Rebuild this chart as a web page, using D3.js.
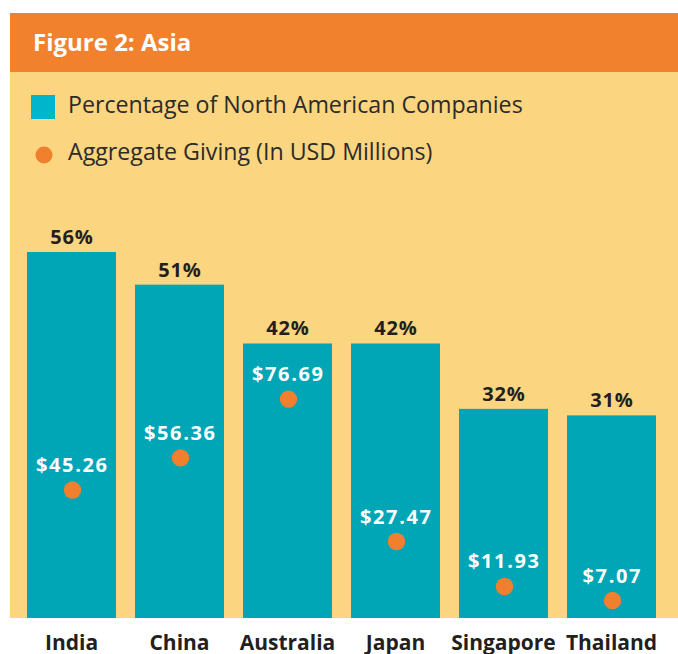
<!DOCTYPE html>
<html>
<head>
<meta charset="utf-8">
<script src="https://cdn.jsdelivr.net/npm/d3@7"></script>
<style>
  html, body { margin: 0; padding: 0; background: #ffffff; }
  svg { display: block; }
  text { font-family: "Open Sans", "Noto Sans", sans-serif; }
</style>
</head>
<body>
<svg id="chart" width="678" height="654"></svg>
<script>
// ---- data ----
const categories = ["India", "China", "Australia", "Japan", "Singapore", "Thailand"];
const percentCompanies = [56, 51, 42, 42, 32, 31];
const aggregateGiving = [45.26, 56.36, 76.69, 27.47, 11.93, 7.07];
const title = "Figure 2: Asia";
const legendLabels = ["Percentage of North American Companies", "Aggregate Giving (In USD Millions)"];

// ---- styles ----
const C = {
  header: "#F2812E",
  panel: "#FBD57F",
  bar: "#00A6B5",
  legendSquare: "#00B5CC",
  dot: "#F0802E",
  dark: "#231F20",
  legendText: "#2B2B2B"
};

const svg = d3.select("#chart");

// panel + header
svg.append("rect").attr("x", 10).attr("y", 72).attr("width", 668).attr("height", 546).attr("fill", C.panel);
svg.append("rect").attr("x", 10).attr("y", 13).attr("width", 668).attr("height", 59).attr("fill", C.header);
svg.append("text").attr("x", 33).attr("y", 51)
  .attr("fill", "#ffffff").attr("font-weight", 700).attr("font-size", 24)
  .text(title);

// legend
svg.append("rect").attr("x", 31).attr("y", 95).attr("width", 24).attr("height", 24).attr("fill", C.legendSquare);
svg.append("circle").attr("cx", 44).attr("cy", 155).attr("r", 8.5).attr("fill", C.dot);
svg.selectAll("text.legend").data(legendLabels).join("text")
  .attr("class", "legend")
  .attr("x", 68).attr("y", (d, i) => i === 0 ? 113 : 160)
  .attr("fill", C.legendText).attr("font-size", 23.2)
  .text(d => d);

// scales
const x = d3.scaleBand().domain(categories).range([27, 656]).paddingInner(19 / 108).paddingOuter(0);
const yPct = d3.scaleLinear().domain([0, 60]).range([618, 618 - 60 * 6.536]);
const yGive = d3.scaleLinear().domain([0, 80]).range([621, 389.5]);

const rows = categories.map((c, i) => ({ c, p: percentCompanies[i], g: aggregateGiving[i] }));

// bars
svg.selectAll("rect.bar").data(rows).join("rect")
  .attr("class", "bar")
  .attr("x", d => x(d.c)).attr("width", x.bandwidth())
  .attr("y", d => yPct(d.p)).attr("height", d => yPct(0) - yPct(d.p))
  .attr("fill", C.bar);

// percent labels
svg.selectAll("text.pct").data(rows).join("text")
  .attr("class", "pct")
  .attr("x", d => x(d.c) + x.bandwidth() / 2)
  .attr("dx", 0.4)
  .attr("y", d => yPct(d.p) - 8)
  .attr("text-anchor", "middle")
  .attr("font-weight", 700).attr("font-size", 20).attr("letter-spacing", 0.8)
  .attr("fill", C.dark)
  .text(d => d.p + "%");

// dots
svg.selectAll("circle.dot").data(rows).join("circle")
  .attr("class", "dot")
  .attr("cx", d => x(d.c) + x.bandwidth() / 2 + 1)
  .attr("cy", d => yGive(d.g))
  .attr("r", 8.7)
  .attr("fill", C.dot);

// giving labels
svg.selectAll("text.give").data(rows).join("text")
  .attr("class", "give")
  .attr("x", d => x(d.c) + x.bandwidth() / 2)
  .attr("dx", 0.8)
  .attr("y", d => yGive(d.g) - 18)
  .attr("text-anchor", "middle")
  .attr("font-weight", 700).attr("font-size", 20).attr("letter-spacing", 1.6)
  .attr("fill", "#ffffff")
  .text(d => "$" + d3.format(".2f")(d.g));

// category axis
const xAxis = d3.axisBottom(x).tickSize(0).tickPadding(0);
const gx = svg.append("g").attr("transform", "translate(0,634)").call(xAxis);
gx.select(".domain").remove();
gx.selectAll("text")
  .attr("dy", 0).attr("y", 15.5)
  .attr("font-family", "'Open Sans', 'Noto Sans', sans-serif")
  .attr("font-size", 21).attr("font-weight", 700)
  .attr("fill", C.dark);
</script>
</body>
</html>
